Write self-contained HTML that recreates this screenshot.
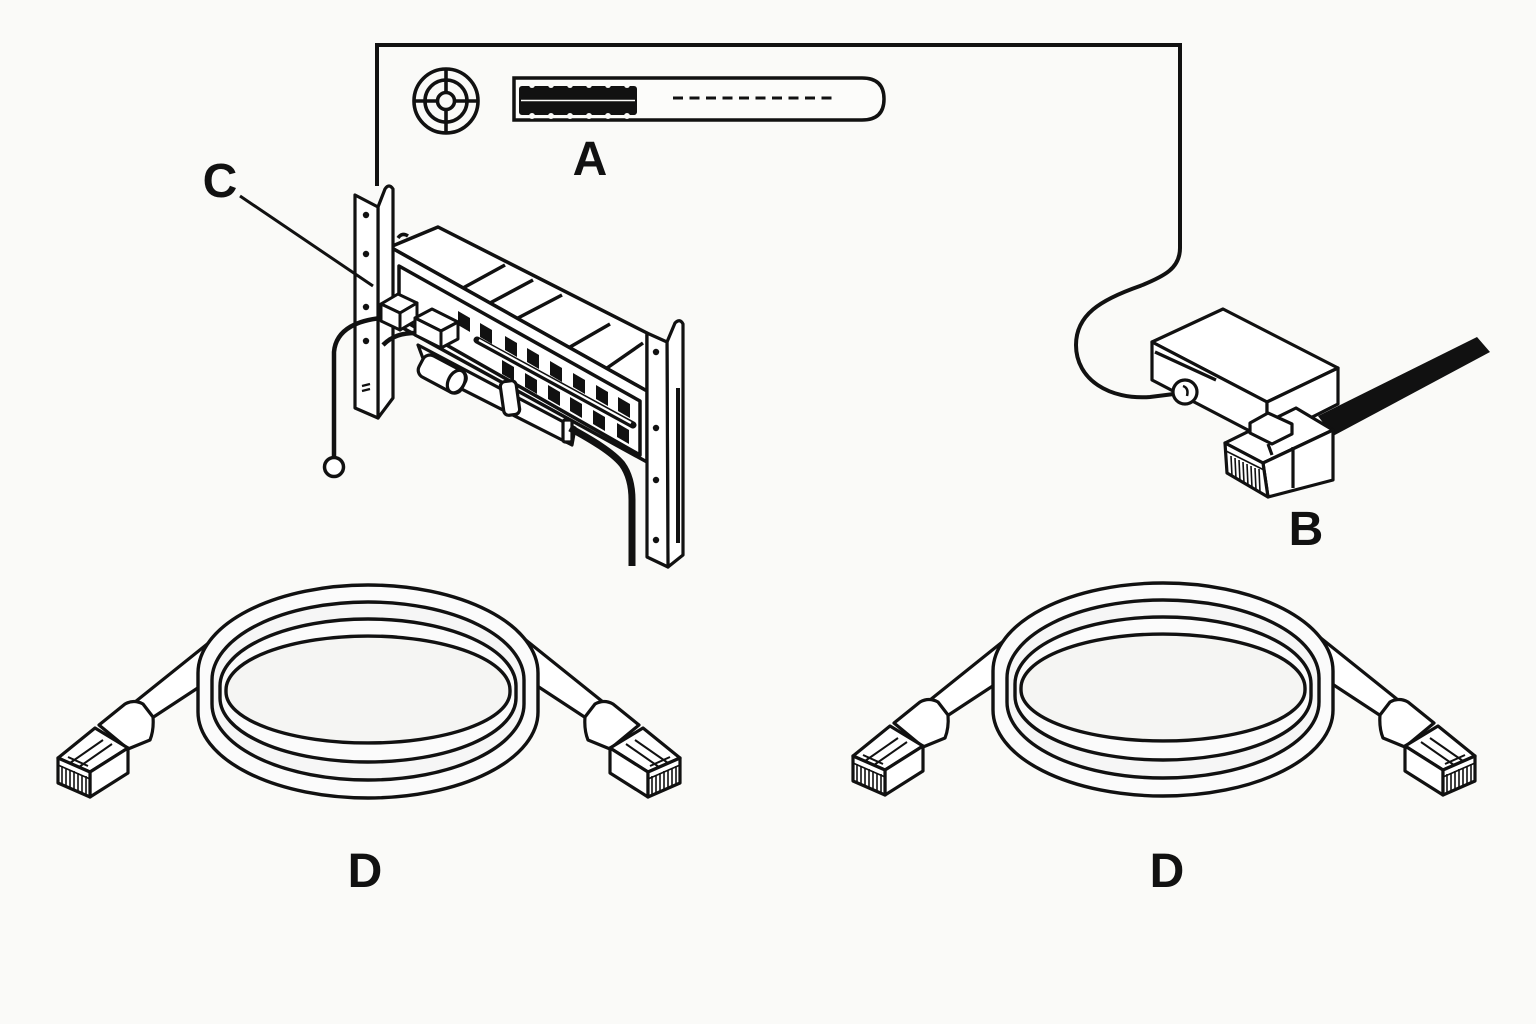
<!DOCTYPE html>
<html><head><meta charset="utf-8"><style>
html,body{margin:0;padding:0;background:#fafaf8;}
svg{display:block;}
text{font-family:"Liberation Sans",Arial,sans-serif;font-weight:bold;fill:#111;}
</style></head><body>
<svg width="1536" height="1024" viewBox="0 0 1536 1024" xmlns="http://www.w3.org/2000/svg">
<rect width="1536" height="1024" fill="#fafaf8"/>
<defs>
<g id="plug">
  <polygon points="216,637 130,706 152,718 216,676" fill="#fff" stroke="#111" stroke-width="3.2" stroke-linejoin="round"/>
  <path d="M99,725 L125,704 Q134,699 143,704 L153,717 Q154,730 150,740 L128,749 Z" fill="#fff" stroke="#111" stroke-width="3.2" stroke-linejoin="round"/>
  <polygon points="58,758 90,772 128,748 95,728" fill="#fff" stroke="#111" stroke-width="3.2" stroke-linejoin="round"/>
  <polygon points="90,772 128,748 128,773 90,797" fill="#fff" stroke="#111" stroke-width="3.2" stroke-linejoin="round"/>
  <polygon points="58,758 90,772 90,797 58,783" fill="#fff" stroke="#111" stroke-width="3.2" stroke-linejoin="round"/>
  <g stroke="#111" stroke-width="1.6">
    <line x1="62" y1="766" x2="62" y2="784"/><line x1="66" y1="768" x2="66" y2="786"/>
    <line x1="70" y1="770" x2="70" y2="788"/><line x1="74" y1="771" x2="74" y2="790"/>
    <line x1="78" y1="773" x2="78" y2="791"/><line x1="82" y1="775" x2="82" y2="793"/>
    <line x1="86" y1="776" x2="86" y2="794"/>
    <line x1="58" y1="765" x2="90" y2="779"/>
  </g>
  <g stroke="#111" stroke-width="2" fill="none">
    <line x1="70" y1="763" x2="103" y2="740"/>
    <line x1="79" y1="767" x2="112" y2="744"/>
    <line x1="64" y1="761" x2="86" y2="770"/>
    <line x1="68" y1="757" x2="88" y2="766"/>
  </g>
</g>
<g id="coil">
  <use href="#plug"/>
  <use href="#plug" transform="translate(738,0) scale(-1,1)"/>
  <path d="M198,673 A170,88 0 0 1 538,673 L538,712 A170,86 0 0 1 198,712 Z" fill="#fbfbfb" stroke="#111" stroke-width="3.4"/>
  <path d="M212,680 A156,78 0 0 1 524,680 L524,704 A156,76 0 0 1 212,704 Z" fill="#f6f6f6" stroke="#111" stroke-width="3.4"/>
  <path d="M220,686 A148,67 0 0 1 516,686 L516,698 A148,64 0 0 1 220,698 Z" fill="#fbfbfb" stroke="#111" stroke-width="3.4"/>
  <path d="M226,690 A142,54 0 0 1 510,690 L510,692 A142,51 0 0 1 226,692 Z" fill="#f5f5f3" stroke="#111" stroke-width="3.4"/>
</g>
</defs>

<!-- frame line -->
<path d="M377,186 L377,45 L1180,45 L1180,248 C1180,268 1165,276 1140,286 C1100,300 1076,315 1076,345 C1076,380 1110,400 1150,397 L1174,394" fill="none" stroke="#111" stroke-width="4" stroke-linejoin="miter"/>

<!-- target icon -->
<g fill="none" stroke="#111" stroke-width="3.6">
  <circle cx="446" cy="101" r="32"/>
  <circle cx="446" cy="101" r="21"/>
  <circle cx="446" cy="101" r="8.5"/>
  <line x1="446" y1="69" x2="446" y2="92"/><line x1="446" y1="110" x2="446" y2="133"/>
  <line x1="414" y1="101" x2="437" y2="101"/><line x1="455" y1="101" x2="478" y2="101"/>
</g>

<!-- bar -->
<path d="M514,78 L862,78 Q884,78 884,99 Q884,120 862,120 L514,120 Z" fill="#fcfcfa" stroke="#111" stroke-width="3.5"/>
<rect x="519" y="86" width="118" height="29" rx="3" fill="#111"/>
<g fill="#fafaf8">
  <circle cx="532" cy="85" r="3"/><circle cx="551" cy="85" r="3"/><circle cx="570" cy="85" r="3"/><circle cx="589" cy="85" r="3"/><circle cx="608" cy="85" r="3"/><circle cx="627" cy="85" r="3"/>
  <circle cx="532" cy="116" r="3"/><circle cx="551" cy="116" r="3"/><circle cx="570" cy="116" r="3"/><circle cx="589" cy="116" r="3"/><circle cx="608" cy="116" r="3"/><circle cx="627" cy="116" r="3"/>
</g>
<line x1="521" y1="100.5" x2="635" y2="100.5" stroke="#fafaf8" stroke-width="1.6"/>
<line x1="673" y1="98" x2="832" y2="98" stroke="#111" stroke-width="3" stroke-dasharray="10,6.5"/>

<!-- switch body -->
<g stroke="#111" stroke-width="3.5" stroke-linejoin="round">
  <path d="M398,238 Q402,232 408,236" fill="none"/>
  <polygon points="438,227 647,333 647,391 390,247" fill="#fff"/>
  <polygon points="390,247 647,391 647,462 392,322" fill="#fff"/>
  <polygon points="399,266 640,401 640,455 399,318" fill="#fff"/>
  <line x1="505" y1="265" x2="463" y2="288"/>
  <line x1="533" y1="280" x2="490" y2="303"/>
  <line x1="562" y1="295" x2="518" y2="318"/>
  <line x1="610" y1="324" x2="570" y2="347"/>
  <line x1="643" y1="343" x2="607" y2="368"/>
</g>
<!-- ports -->
<g fill="#111">
  <polygon points="458,311 470,318 470,332 458,325"/>
  <polygon points="480,323 492,330 492,344 480,337"/>
  <polygon points="505,336 517,343 517,357 505,350"/>
  <polygon points="527,348 539,355 539,369 527,362"/>
  <polygon points="550,361 562,368 562,382 550,375"/>
  <polygon points="573,373 585,380 585,394 573,387"/>
  <polygon points="596,385 608,392 608,406 596,399"/>
  <polygon points="618,397 630,404 630,418 618,411"/>
  <polygon points="502,360 514,367 514,381 502,374"/>
  <polygon points="525,373 537,380 537,394 525,387"/>
  <polygon points="548,385 560,392 560,406 548,399"/>
  <polygon points="570,397 582,404 582,418 570,411"/>
  <polygon points="593,410 605,417 605,431 593,424"/>
  <polygon points="617,423 629,430 629,444 617,437"/>
</g>
<line x1="477" y1="340" x2="633" y2="425" stroke="#111" stroke-width="7" stroke-linecap="round"/>
<line x1="479" y1="340" x2="631" y2="423" stroke="#fff" stroke-width="2.2"/>

<!-- lower bundle -->
<g stroke="#111" stroke-width="3.2" stroke-linejoin="round">
  <polygon points="418,345 575,428 572,445 428,372" fill="#fff"/>
  <g transform="rotate(28 444 375)">
    <rect x="418" y="363" width="48" height="24" rx="8" fill="#fff"/>
    <ellipse cx="458" cy="375" rx="8" ry="12" fill="#fff"/>
  </g>
  <rect x="502" y="381" width="16" height="34" rx="5" fill="#fff" transform="rotate(-8 510 398)"/>
  <rect x="563" y="420" width="9" height="22" rx="2" fill="#fff"/>
</g>
<path d="M570,428 C592,440 612,452 622,464 C630,475 632,488 632,500 L632,566" fill="none" stroke="#111" stroke-width="7"/>

<!-- right post -->
<g stroke="#111" stroke-width="3.2" stroke-linejoin="round">
  <path d="M667,342 L675,323 Q680,318 683,324 L683,555 L668,567 Z" fill="#fff"/>
  <polygon points="647,333 667,342 668,567 647,557" fill="#fff"/>
  <line x1="678" y1="388" x2="678" y2="543" stroke-width="4"/>
</g>
<g fill="#111">
  <circle cx="656" cy="352" r="3.2"/><circle cx="656" cy="428" r="3.2"/><circle cx="656" cy="480" r="3.2"/><circle cx="656" cy="540" r="3.2"/>
</g>

<!-- left post -->
<g stroke="#111" stroke-width="3.2" stroke-linejoin="round">
  <path d="M378,207 L385,189 Q389,183 393,189 L393,398 L378,418 Z" fill="#fff"/>
  <polygon points="355,195 378,207 378,418 355,408" fill="#fff"/>
</g>
<g fill="#111">
  <circle cx="366" cy="215" r="3.2"/><circle cx="366" cy="254" r="3.2"/><circle cx="366" cy="307" r="3.2"/><circle cx="366" cy="341" r="3.2"/>
</g>
<g stroke="#111" stroke-width="2.2"><line x1="362" y1="386" x2="370" y2="384"/><line x1="362" y1="391" x2="370" y2="389"/></g>

<!-- plugs in switch -->
<g stroke="#111" stroke-width="3" stroke-linejoin="round" fill="#fff">
  <polygon points="381,304 398,294 417,303 400,313"/>
  <polygon points="381,304 400,313 400,330 381,321"/>
  <polygon points="400,313 417,303 417,320 400,330"/>
  <polygon points="415,318 432,309 458,322 441,331"/>
  <polygon points="415,318 441,331 441,348 415,335"/>
  <polygon points="441,331 458,322 458,339 441,348"/>
</g>
<path d="M382,318 C360,320 336,328 334,352 L334,456" fill="none" stroke="#111" stroke-width="4.5"/>
<circle cx="334" cy="467" r="9.5" fill="#fff" stroke="#111" stroke-width="3.5"/>
<path d="M416,333 C402,333 392,336 383,345" fill="none" stroke="#111" stroke-width="4.5"/>

<!-- leader C -->
<line x1="240" y1="196" x2="373" y2="286" stroke="#111" stroke-width="3"/>

<!-- gadget B -->
<g stroke="#111" stroke-width="3.2" stroke-linejoin="round">
  <polygon points="1152,342 1223,309 1338,368 1267,402" fill="#fff"/>
  <polygon points="1152,342 1267,402 1267,440 1152,380" fill="#fff"/>
  <polygon points="1267,402 1338,368 1338,404 1267,440" fill="#fff"/>
  <line x1="1155" y1="352" x2="1216" y2="380"/>
  <circle cx="1185" cy="392" r="12" fill="#fff"/>
  <path d="M1183,386 Q1189,388 1187,396" fill="none" stroke-width="2.5"/>
</g>
<polygon points="1318,416 1477,337 1490,352 1333,436" fill="#111"/>
<g stroke="#111" stroke-width="3.2" stroke-linejoin="round" fill="#fff">
  <polygon points="1225,443 1263,463 1333,430 1296,408"/>
  <polygon points="1263,463 1333,430 1333,480 1268,497"/>
  <polygon points="1225,443 1263,463 1268,497 1227,473"/>
  <polygon points="1250,423 1268,413 1292,424 1292,434 1272,444 1250,433"/>
  <line x1="1268" y1="444" x2="1272" y2="455"/>
  <line x1="1293" y1="447" x2="1293" y2="488"/>
</g>
<g stroke="#111" stroke-width="1.6">
  <line x1="1231" y1="456" x2="1232" y2="476"/><line x1="1235" y1="458" x2="1236" y2="479"/>
  <line x1="1239" y1="460" x2="1240" y2="481"/><line x1="1243" y1="462" x2="1244" y2="483"/>
  <line x1="1247" y1="464" x2="1248" y2="486"/><line x1="1251" y1="466" x2="1252" y2="488"/>
  <line x1="1255" y1="468" x2="1256" y2="490"/><line x1="1259" y1="469" x2="1260" y2="492"/>
  <line x1="1226" y1="451" x2="1264" y2="470"/>
</g>

<!-- patch cables -->
<use href="#coil"/>
<use href="#coil" transform="translate(795,-2)"/>

<!-- labels -->
<text x="590" y="175" font-size="48" text-anchor="middle">A</text>
<text x="220" y="197" font-size="48" text-anchor="middle">C</text>
<text x="1306" y="545" font-size="48" text-anchor="middle">B</text>
<text x="365" y="887" font-size="48" text-anchor="middle">D</text>
<text x="1167" y="887" font-size="48" text-anchor="middle">D</text>
</svg>
</body></html>
